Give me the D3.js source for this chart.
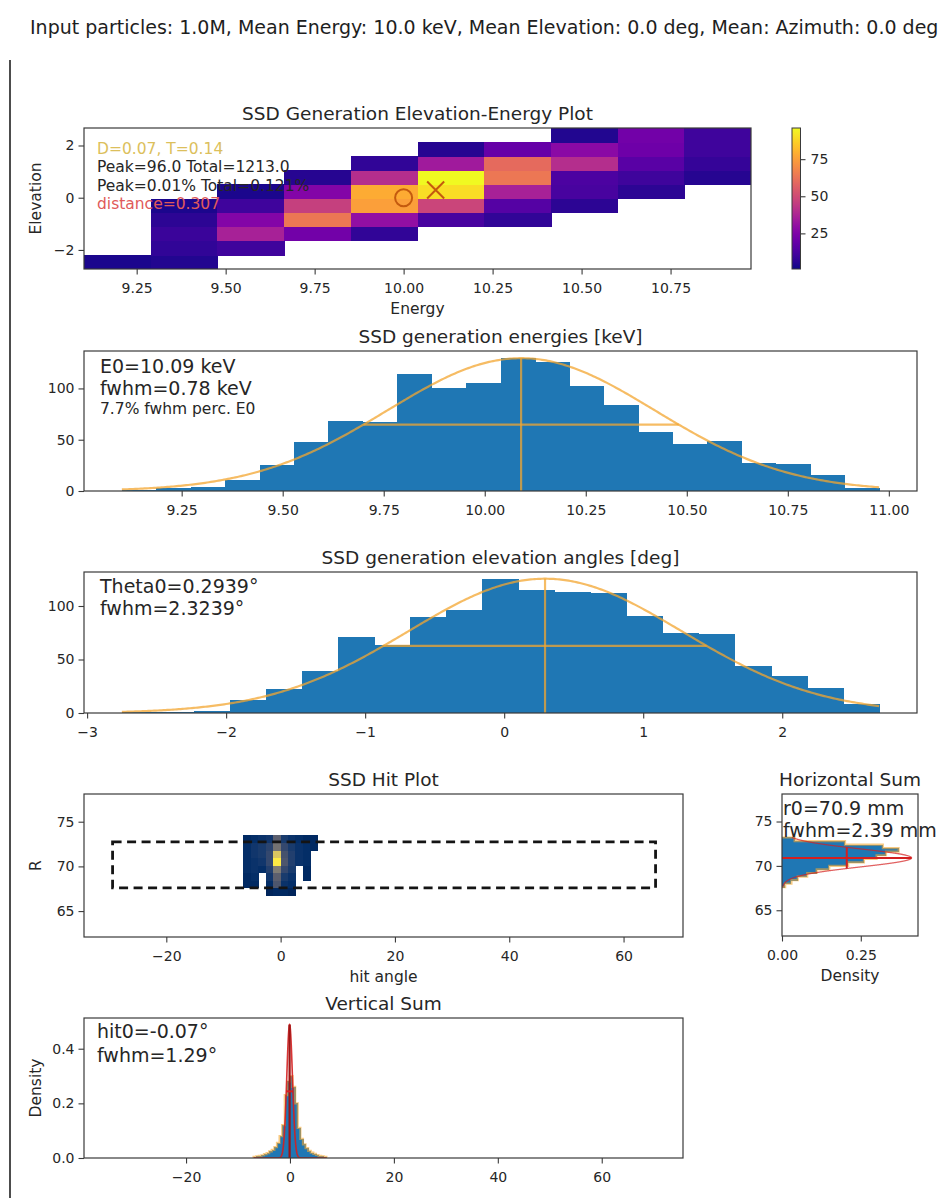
<!DOCTYPE html>
<html>
<head>
<meta charset="utf-8">
<script src="https://cdn.jsdelivr.net/npm/d3@7"></script>
<style>
  html, body { margin: 0; padding: 0; background: #fff; }
  svg { display: block; }
</style>
</head>
<body>
<svg id="fig" width="950" height="1198"></svg>
<script>
// ---------------- data ----------------
const headline = "Input particles: 1.0M, Mean Energy: 10.0 keV, Mean Elevation: 0.0 deg, Mean: Azimuth: 0.0 deg";

// Elevation–energy 2D histogram: 10 energy bins x 10 elevation bins.
// One row per energy bin, counts listed from lowest to highest elevation bin (null = empty).
const heatEnergyRange = [9.102, 10.976];
const heatElevationRange = [-2.73, 2.67];
const heatCounts = [
  [3, null, null, null, null, null, null, null, null, null],
  [4, 7, 9, 6, 3, null, null, null, null, null],
  [null, 10, 36, 26, 10, 3, null, null, null, null],
  [null, null, 22, 64, 46, 26, 5, null, null, null],
  [null, null, 7, 30, 75, 78, 40, 7, null, null],
  [null, null, null, 12, 48, 90, 96, 34, 5, null],
  [null, null, null, 7, 15, 36, 64, 60, 19, null],
  [null, null, null, null, 6, 12, 13, 40, 28, 4],
  [null, null, null, null, null, 6, 10, 16, 21, 22],
  [null, null, null, null, null, null, 5, 8, 10, 10]
];
const heatColorMin = 1;
const heatTicksX = [9.25, 9.5, 9.75, 10.0, 10.25, 10.5, 10.75];
const heatTicksY = [-2, 0, 2];
const colorbarTicks = [25, 50, 75];
const heatNotes = ["D=0.07, T=0.14", "Peak=96.0 Total=1213.0", "Peak=0.01% Total=0.121%", "distance=0.307"];
const nominalPoint = [10.0, 0.0];      // mean energy, mean elevation

// Generated energies histogram (22 bins) and Gaussian fit
const energyCounts = [1, 3, 4, 11, 25, 48, 68, 67, 114, 100, 105, 130, 126, 102, 84, 58, 46, 49, 27, 26, 16, 3];
const energyCentre = 10.09;
const energyFwhm = 0.78;
const energyFitPeak = 129.5;
const energyTicksX = [9.25, 9.5, 9.75, 10.0, 10.25, 10.5, 10.75, 11.0];
const energyTicksY = [0, 50, 100];

// Generated elevation angles histogram (21 bins) and Gaussian fit
const elevationRange = [-2.75, 2.697];
const elevationCounts = [1, 1, 2, 12, 22, 39, 71, 64, 90, 96, 125, 115, 113, 112, 91, 75, 74, 44, 35, 23, 8];
const thetaCentre = 0.2939;
const thetaFwhm = 2.3239;
const thetaFitPeak = 125.5;
const elevationTicksX = [-3, -2, -1, 0, 1, 2];
const elevationTicksY = [0, 50, 100];

// Hit map: 10 hit-angle bins x 8 radius bins, counts listed from smallest to largest R
const hitAngleRange = [-6.5, 6.5];
const hitRadiusRange = [66.8, 73.52];
const hitCounts = [
  [null, 2, 2, 3, 3, 3, 3, 2],
  [null, 2, 3, 4, 4, 5, 5, 3],
  [null, null, null, 3, 5, 6, 6, 4],
  [1, 3, 5, 7, 9, 9, 8, 5],
  [2, 12, 14, 20, 40, 34, 18, 14],
  [2, 4, 6, 9, 12, 11, 9, 6],
  [1, 3, 4, 6, 7, 7, 6, 4],
  [null, null, null, null, 4, 4, 4, 3],
  [null, null, 2, 2, 3, 3, 3, 2],
  [null, null, null, null, null, null, 2, 2]
];
const hitXDomain = [-34.4, 70.4];
const hitYDomain = [62.1, 78.1];
const detectorAngle = [-29.4, 65.6];
const detectorRadius = [67.6, 72.75];
const hitTicksX = [-20, 0, 20, 40, 60];
const hitTicksY = [65, 70, 75];

// Horizontal sum: radius density (0.4 mm bins) and Gaussian fit
const hsumRange = [67.6, 73.2];
const hsumDensity = [0.01, 0.03, 0.05, 0.08, 0.11, 0.15, 0.21, 0.26, 0.30, 0.33, 0.37, 0.32, 0.20, 0.04];
const radiusCentre = 70.9;
const radiusFwhm = 2.39;
const radiusFitPeak = 0.411;
const hsumTicksX = [0, 0.25];

// Vertical sum: hit-angle density (0.5 deg bins) and Gaussian fit
const vsumRange = [-7, 7];
const vsumDensity = [0.004, 0.006, 0.008, 0.010, 0.014, 0.018, 0.024, 0.030, 0.040, 0.055, 0.080, 0.120, 0.230, 0.280,
                     0.300, 0.260, 0.200, 0.110, 0.070, 0.050, 0.036, 0.026, 0.020, 0.015, 0.011, 0.008, 0.006, 0.004];
const hitCentre = -0.07;
const hitFwhm = 1.29;
const hitFitPeak = 0.488;
const vsumTicksY = [0.0, 0.2, 0.4];

// ---------------- style ----------------
const FONT = '"DejaVu Sans", Verdana, sans-serif';
const INK = "#262626";
const SPINE = "#3a3a3a";
const BAR = "#1f77b4";
const FIT = "#f3a630";
const RED = "#d41f1f";
const MARK = "#c45a0e";

const svg = d3.select("#fig");
const defs = svg.append("defs");

// ---------------- helpers ----------------
const edges = (range, n) => d3.range(n + 1).map(i => range[0] + (range[1] - range[0]) * i / n);
const padded = (range, f = 0.05) => { const s = range[1] - range[0]; return [range[0] - f * s, range[1] + f * s]; };
const gauss = (v, mu, fwhm, amp) => amp * Math.exp(-0.5 * Math.pow((v - mu) / (fwhm / 2.35482), 2));

let clipId = 0;
function plotArea(box) {
  const id = "clip" + (clipId++);
  defs.append("clipPath").attr("id", id).append("rect")
    .attr("x", box.x).attr("y", box.y).attr("width", box.w).attr("height", box.h);
  return svg.append("g").attr("clip-path", `url(#${id})`);
}

function styleAxis(g, size) {
  g.select(".domain").remove();
  g.attr("font-size", size || 14).attr("font-family", FONT).attr("color", INK);
  g.selectAll(".tick line").attr("stroke", SPINE).attr("stroke-width", 1.1);
}

function axes(box, x, y, o) {
  const gx = svg.append("g").attr("transform", `translate(0,${box.y + box.h})`)
    .call(d3.axisBottom(x).tickValues(o.xTicks).tickFormat(d3.format(o.xFmt)).tickSize(5.5).tickPadding(8.5));
  styleAxis(gx);
  const gy = svg.append("g").attr("transform", `translate(${box.x},0)`)
    .call(d3.axisLeft(y).tickValues(o.yTicks).tickFormat(d3.format(o.yFmt)).tickSize(5.5).tickPadding(4));
  styleAxis(gy);
  svg.append("rect").attr("x", box.x).attr("y", box.y).attr("width", box.w).attr("height", box.h)
    .attr("fill", "none").attr("stroke", SPINE).attr("stroke-width", 1.2);
  if (o.title) text(box.x + box.w / 2, box.y - 8.5, o.title, 18.5, INK, "middle");
  if (o.xLabel) text(box.x + box.w / 2, box.y + box.h + 45, o.xLabel, 15.5, INK, "middle");
  if (o.yLabel) svg.append("text").attr("transform", `translate(41,${box.y + box.h / 2}) rotate(-90)`)
    .attr("text-anchor", "middle").attr("font-family", FONT).attr("font-size", 15.5).attr("fill", INK).text(o.yLabel);
}

function text(x, y, s, size, color, anchor) {
  return svg.append("text").attr("x", x).attr("y", y).attr("font-family", FONT).attr("font-size", size)
    .attr("fill", color).attr("text-anchor", anchor || "start").text(s);
}

function histBars(g, binEdges, vals, x, y) {
  g.selectAll(null).data(vals).join("rect")
    .attr("x", (d, i) => x(binEdges[i]))
    .attr("width", (d, i) => x(binEdges[i + 1]) - x(binEdges[i]) + 0.6)
    .attr("y", d => y(d))
    .attr("height", d => y(0) - y(d))
    .attr("fill", BAR)
    .attr("shape-rendering", "crispEdges");
}

function fitCurve(g, range, mu, fwhm, amp, x, y, color, width, opacity) {
  const pts = d3.range(0, 401).map(i => range[0] + (range[1] - range[0]) * i / 400);
  g.append("path").datum(pts)
    .attr("d", d3.line().x(v => x(v)).y(v => y(gauss(v, mu, fwhm, amp))))
    .attr("fill", "none").attr("stroke", color).attr("stroke-width", width).attr("stroke-opacity", opacity);
}

// ---------------- headline & frame ----------------
text(30, 34, headline, 19, "#1e1e1e");
svg.append("line").attr("x1", 10).attr("x2", 10).attr("y1", 60).attr("y2", 1198)
  .attr("stroke", "#202020").attr("stroke-width", 1.6);

// ---------------- 1. elevation-energy plot ----------------
{
  const box = { x: 84, y: 128, w: 667, h: 141 };
  const x = d3.scaleLinear().domain(heatEnergyRange).range([box.x, box.x + box.w]);
  const y = d3.scaleLinear().domain(heatElevationRange).range([box.y + box.h, box.y]);
  const eE = edges(heatEnergyRange, heatCounts.length);
  const elE = edges(heatElevationRange, heatCounts[0].length);
  const peak = d3.max(heatCounts.flat());
  const color = d3.scaleSequential(d3.interpolatePlasma).domain([heatColorMin, peak]);
  const g = plotArea(box);
  const cells = [];
  heatCounts.forEach((col, i) => col.forEach((v, k) => { if (v != null) cells.push({ i, k, v }); }));
  g.selectAll(null).data(cells).join("rect")
    .attr("x", d => x(eE[d.i]))
    .attr("width", d => x(eE[d.i + 1]) - x(eE[d.i]) + 0.6)
    .attr("y", d => y(elE[d.k + 1]))
    .attr("height", d => y(elE[d.k]) - y(elE[d.k + 1]) + 0.6)
    .attr("fill", d => color(d.v))
    .attr("shape-rendering", "crispEdges");

  // nominal point (circle) and fitted point (cross)
  g.append("circle").attr("cx", x(nominalPoint[0])).attr("cy", y(nominalPoint[1])).attr("r", 8.5)
    .attr("fill", "none").attr("stroke", MARK).attr("stroke-width", 2);
  const cx = x(energyCentre), cy = y(thetaCentre), s = 8.5;
  g.append("path").attr("d", `M${cx - s},${cy - s}L${cx + s},${cy + s}M${cx - s},${cy + s}L${cx + s},${cy - s}`)
    .attr("stroke", MARK).attr("stroke-width", 2);

  text(97, 153.5, heatNotes[0], 15.5, "#dcbf5c");
  text(97, 172, heatNotes[1], 15.5, INK);
  text(97, 190.5, heatNotes[2], 15.5, INK);
  text(97, 209, heatNotes[3], 15.5, "#e05a5a");

  axes(box, x, y, { xTicks: heatTicksX, xFmt: ".2f", yTicks: heatTicksY, yFmt: "d",
    title: "SSD Generation Elevation-Energy Plot", xLabel: "Energy", yLabel: "Elevation" });

  // colour bar
  const cb = { x: 792, y: 128, w: 8.5, h: 141 };
  const grad = defs.append("linearGradient").attr("id", "plasmaBar")
    .attr("x1", 0).attr("y1", 1).attr("x2", 0).attr("y2", 0);
  d3.range(0, 1.0001, 0.05).forEach(t => grad.append("stop").attr("offset", t).attr("stop-color", d3.interpolatePlasma(t)));
  svg.append("rect").attr("x", cb.x).attr("y", cb.y).attr("width", cb.w).attr("height", cb.h).attr("fill", "url(#plasmaBar)");
  const cs = d3.scaleLinear().domain([heatColorMin, peak]).range([cb.y + cb.h, cb.y]);
  const ga = svg.append("g").attr("transform", `translate(${cb.x + cb.w},0)`)
    .call(d3.axisRight(cs).tickValues(colorbarTicks).tickFormat(d3.format("d")).tickSize(5).tickPadding(5));
  styleAxis(ga);
  svg.append("rect").attr("x", cb.x).attr("y", cb.y).attr("width", cb.w).attr("height", cb.h)
    .attr("fill", "none").attr("stroke", SPINE).attr("stroke-width", 1);
}

// ---------------- 2. energy histogram ----------------
{
  const box = { x: 84, y: 351, w: 833, h: 140 };
  const x = d3.scaleLinear().domain(padded(heatEnergyRange)).range([box.x, box.x + box.w]);
  const top = 1.05 * Math.max(d3.max(energyCounts), energyFitPeak);
  const y = d3.scaleLinear().domain([0, top]).range([box.y + box.h, box.y]);
  const g = plotArea(box);
  histBars(g, edges(heatEnergyRange, energyCounts.length), energyCounts, x, y);
  fitCurve(g, heatEnergyRange, energyCentre, energyFwhm, energyFitPeak, x, y, FIT, 2.2, 0.75);
  g.append("line").attr("x1", x(energyCentre)).attr("x2", x(energyCentre)).attr("y1", y(0)).attr("y2", y(energyFitPeak))
    .attr("stroke", FIT).attr("stroke-width", 2.2).attr("stroke-opacity", 0.75);
  g.append("line").attr("x1", x(energyCentre - energyFwhm / 2)).attr("x2", x(energyCentre + energyFwhm / 2))
    .attr("y1", y(energyFitPeak / 2)).attr("y2", y(energyFitPeak / 2))
    .attr("stroke", FIT).attr("stroke-width", 2.2).attr("stroke-opacity", 0.75);
  text(100, 373, `E0=${energyCentre.toFixed(2)} keV`, 19, INK);
  text(100, 395, `fwhm=${energyFwhm.toFixed(2)} keV`, 19, INK);
  text(100, 414, `${(100 * energyFwhm / energyCentre).toFixed(1)}% fwhm perc. E0`, 15.5, INK);
  axes(box, x, y, { xTicks: energyTicksX, xFmt: ".2f", yTicks: energyTicksY, yFmt: "d",
    title: "SSD generation energies [keV]" });
}

// ---------------- 3. elevation histogram ----------------
{
  const box = { x: 84, y: 572, w: 833, h: 141 };
  const x = d3.scaleLinear().domain(padded(elevationRange)).range([box.x, box.x + box.w]);
  const top = 1.05 * Math.max(d3.max(elevationCounts), thetaFitPeak);
  const y = d3.scaleLinear().domain([0, top]).range([box.y + box.h, box.y]);
  const g = plotArea(box);
  histBars(g, edges(elevationRange, elevationCounts.length), elevationCounts, x, y);
  fitCurve(g, elevationRange, thetaCentre, thetaFwhm, thetaFitPeak, x, y, FIT, 2.2, 0.75);
  g.append("line").attr("x1", x(thetaCentre)).attr("x2", x(thetaCentre)).attr("y1", y(0)).attr("y2", y(thetaFitPeak))
    .attr("stroke", FIT).attr("stroke-width", 2.2).attr("stroke-opacity", 0.75);
  g.append("line").attr("x1", x(thetaCentre - thetaFwhm / 2)).attr("x2", x(thetaCentre + thetaFwhm / 2))
    .attr("y1", y(thetaFitPeak / 2)).attr("y2", y(thetaFitPeak / 2))
    .attr("stroke", FIT).attr("stroke-width", 2.2).attr("stroke-opacity", 0.75);
  text(100, 593, `Theta0=${thetaCentre.toFixed(4)}°`, 19, INK);
  text(100, 615, `fwhm=${thetaFwhm.toFixed(4)}°`, 19, INK);
  axes(box, x, y, { xTicks: elevationTicksX, xFmt: "d", yTicks: elevationTicksY, yFmt: "d",
    title: "SSD generation elevation angles [deg]" });
}

// ---------------- 4. hit plot ----------------
{
  const box = { x: 84, y: 794, w: 599, h: 143 };
  const x = d3.scaleLinear().domain(hitXDomain).range([box.x, box.x + box.w]);
  const y = d3.scaleLinear().domain(hitYDomain).range([box.y + box.h, box.y]);
  const aE = edges(hitAngleRange, hitCounts.length);
  const rE = edges(hitRadiusRange, hitCounts[0].length);
  const color = d3.scaleSequential(d3.interpolateCividis).domain([0, d3.max(hitCounts.flat())]);
  const g = plotArea(box);
  const cells = [];
  hitCounts.forEach((col, i) => col.forEach((v, k) => { if (v != null) cells.push({ i, k, v }); }));
  g.selectAll(null).data(cells).join("rect")
    .attr("x", d => x(aE[d.i]))
    .attr("width", d => x(aE[d.i + 1]) - x(aE[d.i]) + 0.6)
    .attr("y", d => y(rE[d.k + 1]))
    .attr("height", d => y(rE[d.k]) - y(rE[d.k + 1]) + 0.6)
    .attr("fill", d => color(d.v))
    .attr("shape-rendering", "crispEdges");
  g.append("rect")
    .attr("x", x(detectorAngle[0])).attr("width", x(detectorAngle[1]) - x(detectorAngle[0]))
    .attr("y", y(detectorRadius[1])).attr("height", y(detectorRadius[0]) - y(detectorRadius[1]))
    .attr("fill", "none").attr("stroke", "#141414").attr("stroke-width", 2.8).attr("stroke-dasharray", "9,5.5");
  axes(box, x, y, { xTicks: hitTicksX, xFmt: "d", yTicks: hitTicksY, yFmt: "d",
    title: "SSD Hit Plot", xLabel: "hit angle", yLabel: "R" });
}

// ---------------- 5. horizontal sum ----------------
{
  const box = { x: 782, y: 794, w: 136, h: 142 };
  const x = d3.scaleLinear().domain([0, 1.05 * Math.max(d3.max(hsumDensity), radiusFitPeak)]).range([box.x, box.x + box.w]);
  const y = d3.scaleLinear().domain(hitYDomain).range([box.y + box.h, box.y]);
  const rE = edges(hsumRange, hsumDensity.length);
  const g = plotArea(box);
  g.selectAll(null).data(hsumDensity).join("rect")
    .attr("x", x(0))
    .attr("width", d => x(d) - x(0))
    .attr("y", (d, i) => y(rE[i + 1]))
    .attr("height", (d, i) => y(rE[i]) - y(rE[i + 1]) + 0.6)
    .attr("fill", BAR)
    .attr("shape-rendering", "crispEdges");
  let d = `M${x(0)},${y(rE[0])}`;
  hsumDensity.forEach((v, i) => { d += `L${x(v)},${y(rE[i])}L${x(v)},${y(rE[i + 1])}`; });
  d += `L${x(0)},${y(rE[rE.length - 1])}`;
  g.append("path").attr("d", d).attr("fill", "none").attr("stroke", FIT).attr("stroke-width", 2.2).attr("stroke-opacity", 0.6);
  const pts = d3.range(0, 401).map(i => hsumRange[0] + (hsumRange[1] - hsumRange[0]) * i / 400);
  g.append("path").datum(pts)
    .attr("d", d3.line().x(v => x(gauss(v, radiusCentre, radiusFwhm, radiusFitPeak))).y(v => y(v)))
    .attr("fill", "none").attr("stroke", RED).attr("stroke-width", 1.3).attr("stroke-opacity", 0.7);
  g.append("line").attr("x1", x(0)).attr("x2", x(radiusFitPeak)).attr("y1", y(radiusCentre)).attr("y2", y(radiusCentre))
    .attr("stroke", RED).attr("stroke-width", 2);
  g.append("line").attr("x1", x(radiusFitPeak / 2)).attr("x2", x(radiusFitPeak / 2))
    .attr("y1", y(radiusCentre - radiusFwhm / 2)).attr("y2", y(radiusCentre + radiusFwhm / 2))
    .attr("stroke", RED).attr("stroke-width", 2);
  axes(box, x, y, { xTicks: hsumTicksX, xFmt: ".2f", yTicks: hitTicksY, yFmt: "d",
    title: "Horizontal Sum", xLabel: "Density" });
  text(783, 815, `r0=${radiusCentre.toFixed(1)} mm`, 19, INK);
  text(783, 837, `fwhm=${radiusFwhm.toFixed(2)} mm`, 19, INK);
}

// ---------------- 6. vertical sum ----------------
{
  const box = { x: 84, y: 1018, w: 599, h: 140 };
  const x = d3.scaleLinear().domain(padded(hitXDomain)).range([box.x, box.x + box.w]);
  const y = d3.scaleLinear().domain([0, 1.05 * Math.max(d3.max(vsumDensity), hitFitPeak)]).range([box.y + box.h, box.y]);
  const hE = edges(vsumRange, vsumDensity.length);
  const g = plotArea(box);
  histBars(g, hE, vsumDensity, x, y);
  let d = `M${x(hE[0])},${y(0)}`;
  vsumDensity.forEach((v, i) => { d += `L${x(hE[i])},${y(v)}L${x(hE[i + 1])},${y(v)}`; });
  d += `L${x(hE[hE.length - 1])},${y(0)}`;
  g.append("path").attr("d", d).attr("fill", "none").attr("stroke", FIT).attr("stroke-width", 2.2).attr("stroke-opacity", 0.6);
  fitCurve(g, vsumRange, hitCentre, hitFwhm, hitFitPeak, x, y, RED, 1.6, 0.9);
  g.append("line").attr("x1", x(hitCentre)).attr("x2", x(hitCentre)).attr("y1", y(0)).attr("y2", y(hitFitPeak))
    .attr("stroke", "#9e1414").attr("stroke-width", 2.2);
  g.append("line").attr("x1", x(hitCentre - hitFwhm / 2)).attr("x2", x(hitCentre + hitFwhm / 2))
    .attr("y1", y(hitFitPeak / 2)).attr("y2", y(hitFitPeak / 2))
    .attr("stroke", RED).attr("stroke-width", 2);
  text(97, 1038, `hit0=${hitCentre.toFixed(2)}°`, 19, INK);
  text(97, 1062, `fwhm=${hitFwhm.toFixed(2)}°`, 19, INK);
  axes(box, x, y, { xTicks: hitTicksX, xFmt: "d", yTicks: vsumTicksY, yFmt: ".1f",
    title: "Vertical Sum", yLabel: "Density" });
}
</script>
</body>
</html>
